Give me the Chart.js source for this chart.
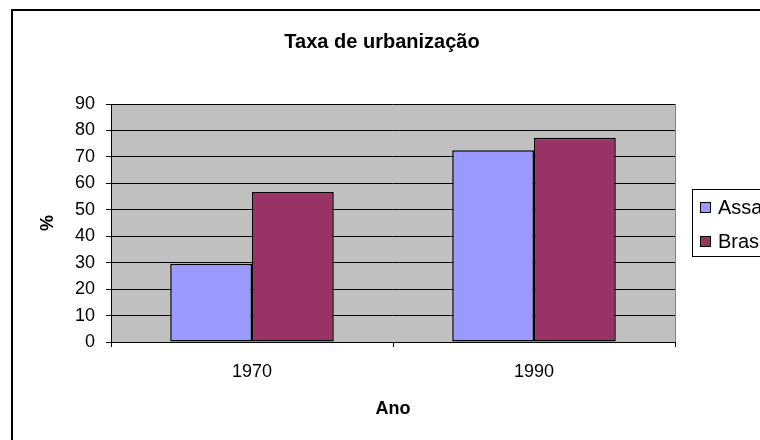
<!DOCTYPE html>
<html><head><meta charset="utf-8">
<script src="https://cdn.jsdelivr.net/npm/chart.js@4/dist/chart.umd.min.js"></script>
<style>
html,body{margin:0;padding:0;overflow:hidden;background:#fff;width:760px;height:440px}
canvas{display:block}
</style></head>
<body><canvas id="c" width="760" height="440"></canvas>
<script>
const chartTitle = 'Taxa de urbanização';
const categories = ['1970', '1990'];
const seriesNames = ['Assaí', 'Brasil'];
const assaiValues = [29.6, 72.5];
const brasilValues = [56.7, 77.2];
const yTickValues = [0, 10, 20, 30, 40, 50, 60, 70, 80, 90];
const xAxisTitle = 'Ano';
const yAxisTitle = '%';

const FONT = "'Liberation Sans', Arial, sans-serif";
const colors = ['#9999FF', '#993366'];

const framePlugin = {
  id: 'frame',
  beforeDraw(chart) {
    const {ctx, chartArea: a} = chart;
    ctx.save();
    ctx.fillStyle = '#fff';
    ctx.fillRect(0, 0, chart.width, chart.height);
    // outer chart border
    ctx.strokeStyle = '#000';
    ctx.lineWidth = 2;
    ctx.strokeRect(12, 10, 900, 600);
    // plot area
    ctx.fillStyle = '#C0C0C0';
    ctx.fillRect(a.left, a.top, a.right - a.left, a.bottom - a.top);
    ctx.strokeStyle = '#808080';
    ctx.lineWidth = 1;
    ctx.beginPath();
    ctx.moveTo(a.right + 0.5, a.top);
    ctx.lineTo(a.right + 0.5, a.bottom);
    ctx.stroke();
    // title
    ctx.fillStyle = '#000';
    ctx.font = 'bold 20px ' + FONT;
    ctx.textAlign = 'center';
    ctx.textBaseline = 'middle';
    ctx.fillText(chartTitle, 382, 42);
    ctx.restore();
  },
  afterDraw(chart) {
    const {ctx} = chart;
    ctx.save();
    ctx.fillStyle = '#fff';
    ctx.fillRect(692, 189, 200, 67);
    ctx.strokeStyle = '#000';
    ctx.lineWidth = 1;
    ctx.strokeRect(692.5, 189.5, 200, 67);
    const ys = [207, 241];
    chart.data.datasets.forEach((ds, i) => {
      ctx.fillStyle = ds.backgroundColor;
      ctx.fillRect(700, ys[i] - 5, 10, 10);
      ctx.strokeStyle = '#000';
      ctx.strokeRect(700.5, ys[i] - 4.5, 10, 10);
      ctx.fillStyle = '#000';
      ctx.font = '20px ' + FONT;
      ctx.textAlign = 'left';
      ctx.textBaseline = 'middle';
      ctx.fillText(ds.label, 718, ys[i] + 1);
    });
    ctx.restore();
  }
};

new Chart(document.getElementById('c'), {
  type: 'bar',
  data: {
    labels: categories,
    datasets: [
      {label: seriesNames[0], data: assaiValues, backgroundColor: colors[0]},
      {label: seriesNames[1], data: brasilValues, backgroundColor: colors[1]}
    ].map(d => Object.assign(d, {
      borderColor: '#000', borderWidth: 1.5, borderSkipped: false,
      categoryPercentage: 0.58, barPercentage: 1
    }))
  },
  options: {
    responsive: false,
    animation: false,
    events: [],
    layout: {padding: {top: 104, left: 0, right: 85, bottom: 0}},
    plugins: {legend: {display: false}, title: {display: false}, tooltip: {enabled: false}},
    scales: {
      x: {
        afterFit(s) { s.height = 98; },
        grid: {drawOnChartArea: false, offset: true, color: '#000', tickLength: 5, tickWidth: 1},
        border: {color: '#000', width: 1},
        ticks: {color: '#000', font: {family: FONT, size: 18}, padding: 14},
        title: {display: true, text: xAxisTitle, color: '#000', font: {family: FONT, size: 18, weight: 'bold'}, padding: {top: 0, bottom: 20}}
      },
      y: {
        min: 0, max: 90,
        afterFit(s) { s.width = 111; },
        afterBuildTicks(s) { s.ticks = yTickValues.map(v => ({value: v})); },
        grid: {color: '#000', tickLength: 5, lineWidth: 1},
        border: {color: '#000', width: 1},
        ticks: {color: '#000', font: {family: FONT, size: 18}, padding: 11},
        title: {display: true, text: yAxisTitle, color: '#000', font: {family: FONT, size: 18, weight: 'bold'}, padding: {top: 37, bottom: 0}}
      }
    }
  },
  plugins: [framePlugin]
});
</script>
</body></html>
